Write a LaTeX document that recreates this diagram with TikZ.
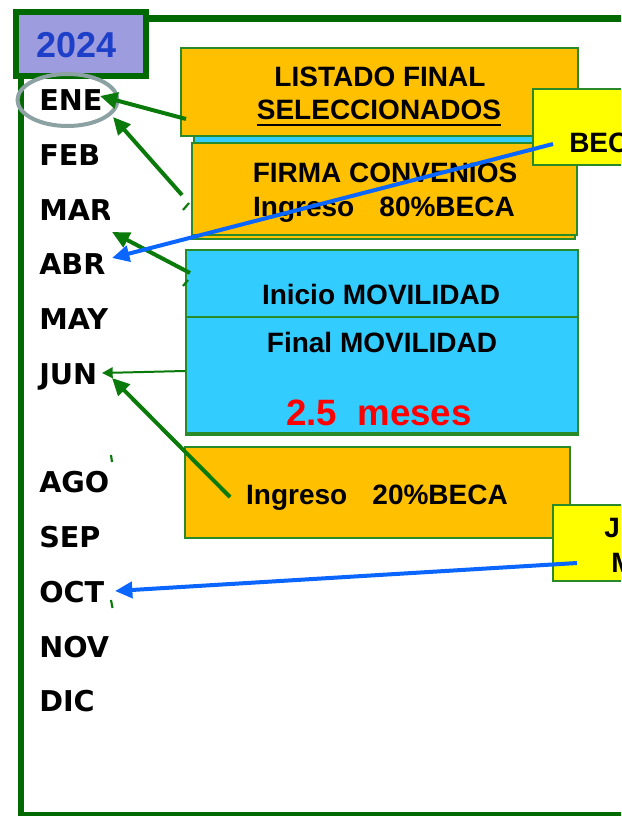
\documentclass[tikz,border=0pt]{standalone}
\usepackage{fontspec}
\setmainfont{Liberation Sans}
\newfontfamily\monthfont{DejaVu Sans}
\usetikzlibrary{arrows.meta}
\definecolor{boxorange}{HTML}{FFC000}
\definecolor{boxcyan}{HTML}{33CCFF}
\definecolor{boxyellow}{HTML}{FFFF00}
\definecolor{boxgreen}{HTML}{2A8A2A}
\definecolor{framegreen}{HTML}{006A00}
\definecolor{arrowgreen}{HTML}{0A7A0A}
\definecolor{arrowblue}{HTML}{0A66FF}
\definecolor{lavender}{HTML}{9C9CDE}
\definecolor{yearblue}{HTML}{1E3FC8}
\definecolor{ringgray}{HTML}{8CA2A2}
\definecolor{meses}{HTML}{FF0000}
\tikzset{
  panel/.style={draw=boxgreen, line width=1.1pt},
  boxtxt/.style={font=\fontsize{21}{24}\selectfont\bfseries, inner sep=0pt, anchor=base},
  monthtxt/.style={font=\monthfont\fontsize{21.5}{24}\selectfont\bfseries, inner sep=0pt, anchor=base west},
  greenarrow/.style={draw=arrowgreen, line width=3pt, -{Triangle[length=13pt,width=12pt]}},
  thinarrow/.style={draw=arrowgreen, line width=1.5pt, -{Triangle[length=8pt,width=8pt]}},
  bluearrow/.style={draw=arrowblue, line width=3pt, -{Triangle[length=13pt,width=12pt]}},
  frag/.style={draw=arrowgreen, line width=1.6pt}
}
\begin{document}
\begin{tikzpicture}[x=0.75pt,y=-0.75pt]
\useasboundingbox (0,0) rectangle (621,816);
\clip (0,0) rectangle (621,816);
\fill[white] (0,0) rectangle (621,816);

% outer frame
\draw[framegreen, line width=4.8pt] (21,18.5) rectangle (720,815);

% year box
\draw[draw=framegreen, fill=lavender, line width=4.5pt] (16,12) rectangle (146,76);
\node[font=\fontsize{27}{30}\selectfont\bfseries, text=yearblue, inner sep=0pt, anchor=base] (year) at (76.5,58) {2024};

% months (clipped at right like the reference)
\begin{scope}
\clip (30,60) rectangle (109.5,760);
\node[monthtxt] (ene) at (39,111) {ENE};
\node[monthtxt] (feb) at (39,165.5) {FEB};
\node[monthtxt] (mar) at (39,220.5) {MAR};
\node[monthtxt] (abr) at (39,275) {ABR};
\node[monthtxt] (may) at (39,329.5) {MAY};
\node[monthtxt] (jun) at (39,384) {JUN};
\node[monthtxt] (ago) at (39,492) {AGO};
\node[monthtxt] (sep) at (39,547) {SEP};
\node[monthtxt] (oct) at (39,602.5) {OCT};
\node[monthtxt] (nov) at (39,657.5) {NOV};
\node[monthtxt] (dic) at (39,711) {DIC};
\end{scope}

% ring around ENE
\draw[ringgray, line width=3pt] (67.5,100) ellipse [x radius=50, y radius=26];

% cyan strip behind first box
\draw[panel, fill=boxcyan] (194,125) rectangle (577,143);
% box 1
\draw[panel, fill=boxorange] (181,48) rectangle (578,136);
\node[boxtxt] (lis) at (380,87) {LISTADO FINAL};
\node[boxtxt] (sel) at (379,120) {SELECCIONADOS};
\draw[line width=1.5pt] ([yshift=-3.2pt]sel.south west) -- ([yshift=-3.2pt]sel.south east);

% box 2 (with shadow below)
\draw[panel, fill=boxorange] (192,147) rectangle (575,239);
\draw[panel, fill=boxorange] (192,143) rectangle (577,235);
\node[boxtxt] (fir) at (385,183) {FIRMA CONVENIOS};
\node[boxtxt] (in80) at (384,217) {Ingreso\hspace{0.9em}80\%BECA};

% box 3
\draw[panel, fill=boxcyan] (186,250) rectangle (578,320);
\node[boxtxt] (ini) at (381,304) {Inicio MOVILIDAD};

% box 4 (with shadow below)
\draw[panel, fill=boxgreen] (186,319) rectangle (578,435.5);
\draw[panel, fill=boxcyan] (186,317) rectangle (578,433);
\node[boxtxt] (fin) at (382,352) {Final MOVILIDAD};
\node[boxtxt, font=\fontsize{27.5}{30}\selectfont\bfseries, text=meses] (dur) at (379,425) {2.5\hspace{0.55em}meses};

% box 5
\draw[panel, fill=boxorange] (185,447) rectangle (570,538);
\node[boxtxt] (in20) at (377,504) {Ingreso\hspace{0.9em}20\%BECA};

% yellow boxes on the right
\draw[panel, fill=boxyellow] (533,89) rectangle (660,165);
\node[boxtxt, anchor=base west] (bec) at (569,153) {BEC};
\draw[panel, fill=boxyellow] (553,505) rectangle (660,581);
\node[boxtxt, anchor=base west] (jl) at (604,537) {J};
\node[boxtxt, anchor=base west] (ml) at (611,572) {M};

% connector ends
\coordinate (s1) at (186,119);  \coordinate (t1) at (100,96);
\coordinate (s2) at (182,195);  \coordinate (t2) at (113,117);
\coordinate (s3) at (190,273);  \coordinate (t3) at (112,232);
\coordinate (s4) at (185,371);  \coordinate (t4) at (102,373);
\coordinate (s5) at (230,497);  \coordinate (t5) at (112,378);
\coordinate (s6) at (553,144);  \coordinate (t6) at (112,258);
\coordinate (s7) at (577,563);  \coordinate (t7) at (115,591);

% small visible fragments
\draw[frag] (183,210) -- (189,203);
\draw[frag] (183,286) -- (188,280);
\draw[frag] (111,455) -- (112,462);
\draw[frag] (111,600) -- (112.5,608);

% connectors
\draw[greenarrow] (s1) -- (t1);
\draw[greenarrow] (s2) -- (t2);
\draw[greenarrow] (s3) -- (t3);
\draw[thinarrow] (s4) -- (t4);
\draw[greenarrow] (s5) -- (t5);
\draw[bluearrow] (s6) -- (t6);
\draw[bluearrow] (s7) -- (t7);
\end{tikzpicture}
\end{document}
